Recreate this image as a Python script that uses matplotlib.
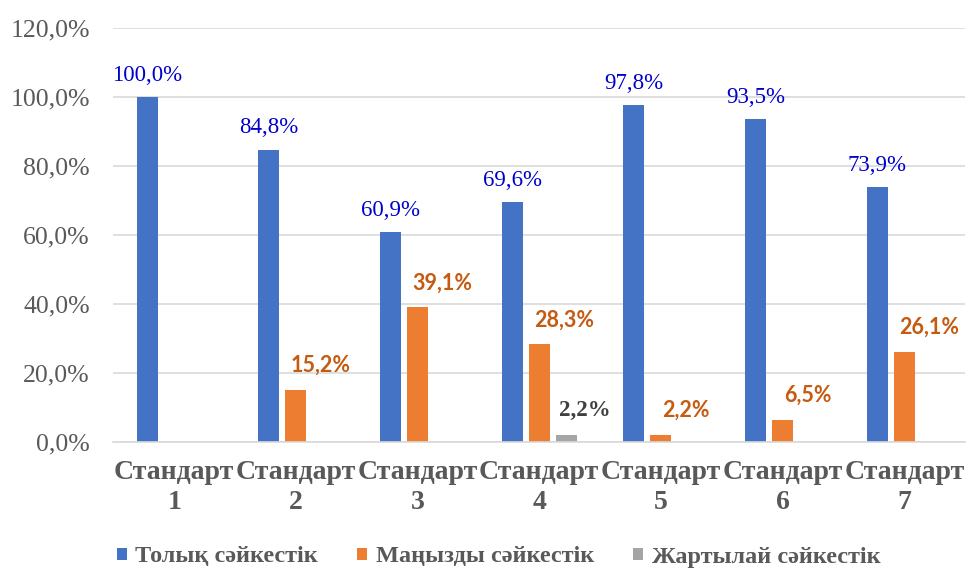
import numpy as np
import matplotlib
matplotlib.use('Agg')
import matplotlib.pyplot as plt

categories = ['Стандарт\n1', 'Стандарт\n2', 'Стандарт\n3', 'Стандарт\n4',
              'Стандарт\n5', 'Стандарт\n6', 'Стандарт\n7']
series_names = ['Толық сәйкестік', 'Маңызды сәйкестік', 'Жартылай сәйкестік']
full = [100.0, 84.8, 60.9, 69.6, 97.8, 93.5, 73.9]
significant = [np.nan, 15.2, 39.1, 28.3, 2.2, 6.5, 26.1]
partial = [np.nan, np.nan, np.nan, 2.2, np.nan, np.nan, np.nan]

colors = ['#4472C4', '#ED7D31', '#A5A5A5']
serif = ['Liberation Serif', 'DejaVu Serif']

def pct(v):
  return ('%.1f%%' % v).replace('.', ',')

fig = plt.figure(figsize=(9.69, 5.72), dpi=100)
ax = fig.add_axes([0.117, 0.227, 0.879, 0.724])

x = np.arange(len(categories))
w = 0.173
off = 0.222

b1 = ax.bar(x - off, full, w, color=colors[0], label=series_names[0])
b2 = ax.bar(x, significant, w, color=colors[1], label=series_names[1])
b3 = ax.bar(x + off, partial, w, color=colors[2], label=series_names[2])

for xi, v in zip(x, full):
  ax.annotate(pct(v), (xi - off, v), xytext=(0, 8), textcoords='offset points',
              ha='center', va='bottom', fontsize=16.5, color='#0000CC',
              family=serif)
for xi, v in zip(x, significant):
  if np.isnan(v):
    continue
  ax.annotate(pct(v), (xi, v), xytext=(18, 10), textcoords='offset points',
              ha='center', va='bottom', fontsize=15.5, color='#C55A11',
              family='Lato', fontweight='bold')
for xi, v in zip(x, partial):
  if np.isnan(v):
    continue
  ax.annotate(pct(v), (xi + off, v), xytext=(13, 10), textcoords='offset points',
              ha='center', va='bottom', fontsize=16.5, color='#404040',
              family=serif, fontweight='bold')

ax.set_ylim(0, 120)
ax.set_xlim(-0.5, len(categories) - 0.5)
yt = np.arange(0, 121, 20)
ax.set_yticks(yt)
ax.set_yticklabels([pct(t) for t in yt], family=serif, fontsize=18.5, color='#595959')
ax.set_xticks(x)
ax.set_xticklabels(categories, family=serif, fontsize=20,
                   fontweight='bold', color='#595959', linespacing=1.25)
ax.tick_params(length=0, axis='both')
ax.tick_params(axis='x', pad=13)
ax.tick_params(axis='y', pad=17)
ax.yaxis.grid(True, color='#D9D9D9', linewidth=1.2)
ax.set_axisbelow(True)
for s in ['top', 'right', 'left']:
  ax.spines[s].set_visible(False)
ax.spines['bottom'].set_color('#D9D9D9')
ax.spines['bottom'].set_linewidth(1.2)

leg = fig.legend(handles=[b1, b2, b3], loc='center', bbox_to_anchor=(0.5145, 1 - 557 / 572),
                 ncol=3, frameon=False, handlelength=0.42, handleheight=0.42,
                 handletextpad=0.35, columnspacing=1.6,
                 prop={'family': serif, 'weight': 'bold', 'size': 17.5})
for t in leg.get_texts():
  t.set_color('#595959')

fig.savefig('out.png', dpi=100)
plt.close()
